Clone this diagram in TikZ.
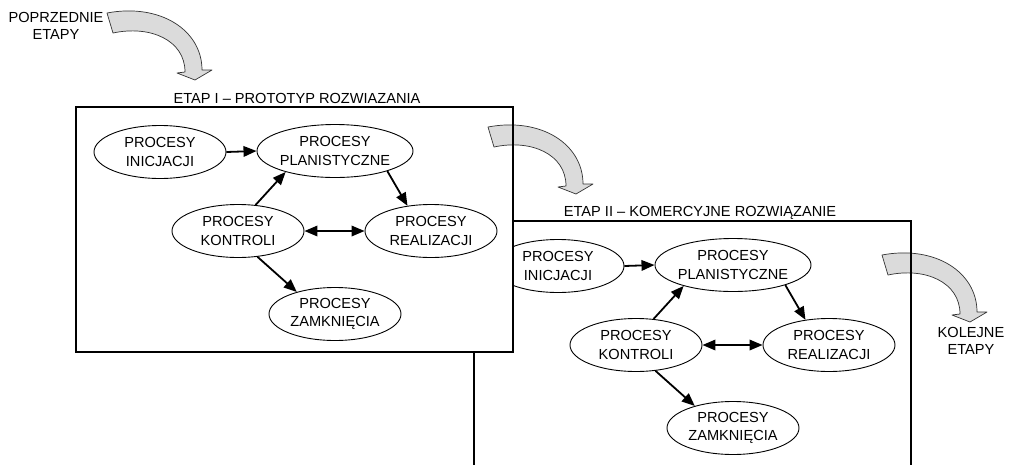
\documentclass[tikz,border=0pt]{standalone}
\usepackage{fontspec}
\setmainfont{Liberation Sans}
\usetikzlibrary{shapes.geometric,arrows.meta}
\begin{document}
\begin{tikzpicture}[x=1pt,y=-1pt,
  proc/.style={ellipse,draw=black,line width=0.9pt,fill=white,minimum width=132pt,minimum height=53pt,inner sep=0pt,align=center,font=\fontsize{14.6}{18.3}\selectfont},
  conn/.style={line width=1.8pt,-{Triangle[length=13pt,width=10.5pt]}},
  conntwo/.style={line width=1.8pt,{Triangle[length=13pt,width=10.5pt]}-{Triangle[length=13pt,width=10.5pt]}},
  lbl/.style={align=center,inner sep=0pt,font=\fontsize{14.6}{16.5}\selectfont},
  frame/.style={line width=2pt},
  bigarrow/.style={fill=black!14,draw=black!80,line width=0.7pt,line join=round},
  curvedarrow/.pic={\path[bigarrow] (0,0) .. controls (53,-10) and (95,17) .. (95,57) -- (105,57) -- (88,67) -- (70,60) -- (78,59) .. controls (78,27) and (43,12) .. (6,20) -- cycle;}
]
\path[use as bounding box,fill=white] (0,0) rectangle (1012,464);

% ---------- stage II (behind) ----------
\begin{scope}[shift={(398,114)}]
  \node[proc] (I2) at (160,152) {PROCESY\\INICJACJI};
  \node[proc] (P2) at (335,151) {PROCESY\\PLANISTYCZNE};
  \node[proc] (K2) at (238,231) {PROCESY\\KONTROLI};
  \node[proc] (R2) at (431,231) {PROCESY\\REALIZACJI};
  \node[proc] (Z2) at (335,314) {PROCESY\\ZAMKNIĘCIA};
  \draw[conn] (I2.east) -- (P2.west);
  \draw[conn] (K2.56) -- (P2.203);
  \draw[conn] (P2.339) -- (R2.133);
  \draw[conntwo] (K2.east) -- (R2.west);
  \draw[conn] (K2.307) -- (Z2.150);
\end{scope}
\node[lbl] (t2) at (700,213) {ETAP II – KOMERCYJNE ROZWIĄZANIE};
\pic at (882,255) {curvedarrow};
\draw[frame] (474,470) -- (474,221) -- (911,221) -- (911,470);

% ---------- stage I (front) ----------
\fill[white] (76,107) rectangle (513,352);
\node[proc] (I1) at (160,152) {PROCESY\\INICJACJI};
\node[proc] (P1) at (335,151) {PROCESY\\PLANISTYCZNE};
\node[proc] (K1) at (238,231) {PROCESY\\KONTROLI};
\node[proc] (R1) at (431,231) {PROCESY\\REALIZACJI};
\node[proc] (Z1) at (335,314) {PROCESY\\ZAMKNIĘCIA};
\draw[conn] (I1.east) -- (P1.west);
\draw[conn] (K1.56) -- (P1.203);
\draw[conn] (P1.339) -- (R1.133);
\draw[conntwo] (K1.east) -- (R1.west);
\draw[conn] (K1.307) -- (Z1.150);
\node[lbl] (t1) at (297,98) {ETAP I – PROTOTYP ROZWIAZANIA};
\pic at (488,127) {curvedarrow};
\draw[frame] (76,107) rectangle (513,352);

% ---------- outside ----------
\pic at (107,13) {curvedarrow};
\node[lbl] (prev) at (56,26) {POPRZEDNIE\\ETAPY};
\node[lbl] (next) at (971,341) {KOLEJNE\\ETAPY};
\end{tikzpicture}
\end{document}
